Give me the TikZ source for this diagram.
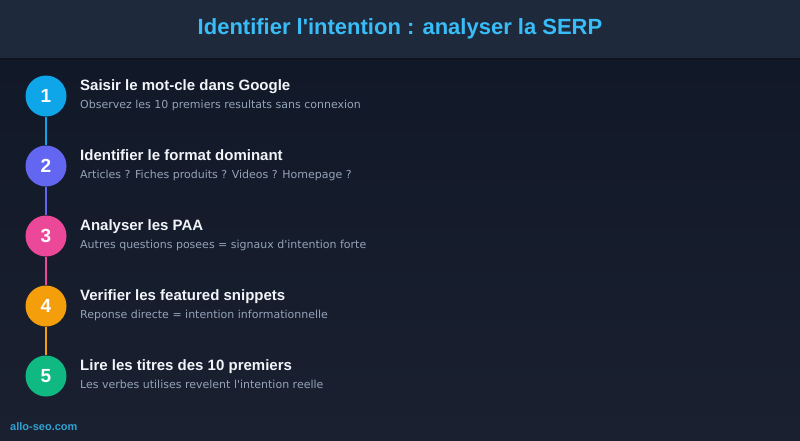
\documentclass[tikz,border=0pt]{standalone}
\usepackage{fontspec}
\setmainfont{Liberation Sans}[Ligatures=TeXOff]
\newfontfamily\dejavu{DejaVu Sans}[Ligatures=TeXOff]
\usetikzlibrary{positioning}

\definecolor{headbg}{HTML}{1E293B}
\definecolor{bgtop}{HTML}{111827}
\definecolor{bgbot}{HTML}{1A2030}
\definecolor{skyblue}{HTML}{38BDF8}
\definecolor{stepone}{HTML}{0EA5E9}
\definecolor{steptwo}{HTML}{6366F1}
\definecolor{stepthree}{HTML}{EC4899}
\definecolor{stepfour}{HTML}{F59E0B}
\definecolor{stepfive}{HTML}{10B981}
\definecolor{titlegray}{HTML}{F1F5F9}
\definecolor{subgray}{HTML}{94A3B8}

\begin{document}
\begin{tikzpicture}[x=1pt,y=-1pt,
    num/.style={circle,fill=#1,minimum size=41pt,inner sep=0pt,text=white,font=\fontsize{19}{19}\selectfont\bfseries},
    head/.style={anchor=base west,inner sep=0pt,text=titlegray,font=\fontsize{15}{18}\selectfont\bfseries},
    sub/.style={anchor=base west,inner sep=0pt,text=subgray,font=\dejavu\fontsize{11}{13}\selectfont},
    link/.style={draw=#1,line width=2pt}]
        \useasboundingbox (0,0) rectangle (800,440);
        \shade[top color=bgtop,bottom color=bgbot] (0,58) rectangle (800,440);
        \fill[headbg] (0,0) rectangle (800,58);
        \fill[bgtop!80!black] (0,58) rectangle (800,59.5);
        \node [anchor=base,inner sep=0pt,text=skyblue,font=\fontsize{22}{26}\selectfont\bfseries] (title) at (400,34) {Identifier l'intention : analyser la SERP};

        \node [num=stepone] (c1) at (46,96) {1};
        \node [num=steptwo] (c2) at (46,166) {2};
        \node [num=stepthree] (c3) at (46,236) {3};
        \node [num=stepfour] (c4) at (46,306) {4};
        \node [num=stepfive] (c5) at (46,376) {5};
        \draw[link=stepone] (c1.south) -- (c2.north);
        \draw[link=steptwo] (c2.south) -- (c3.north);
        \draw[link=stepthree] (c3.south) -- (c4.north);
        \draw[link=stepfour] (c4.south) -- (c5.north);

        \node [head] (t1) at (80,90) {Saisir le mot-cle dans Google};
        \node [sub] (s1) at (80,108) {Observez les 10 premiers resultats sans connexion};
        \node [head] (t2) at (80,160) {Identifier le format dominant};
        \node [sub] (s2) at (80,178) {Articles ? Fiches produits ? Videos ? Homepage ?};
        \node [head] (t3) at (80,230) {Analyser les PAA};
        \node [sub] (s3) at (80,248) {Autres questions posees = signaux d'intention forte};
        \node [head] (t4) at (80,300) {Verifier les featured snippets};
        \node [sub] (s4) at (80,318) {Reponse directe = intention informationnelle};
        \node [head] (t5) at (80,370) {Lire les titres des 10 premiers};
        \node [sub] (s5) at (80,388) {Les verbes utilises revelent l'intention reelle};

        \node [anchor=base west,inner sep=0pt,text=skyblue!85!black,font=\fontsize{11}{13}\selectfont\bfseries] (site) at (10,430) {allo-seo.com};
      \end{tikzpicture}
\end{document}
